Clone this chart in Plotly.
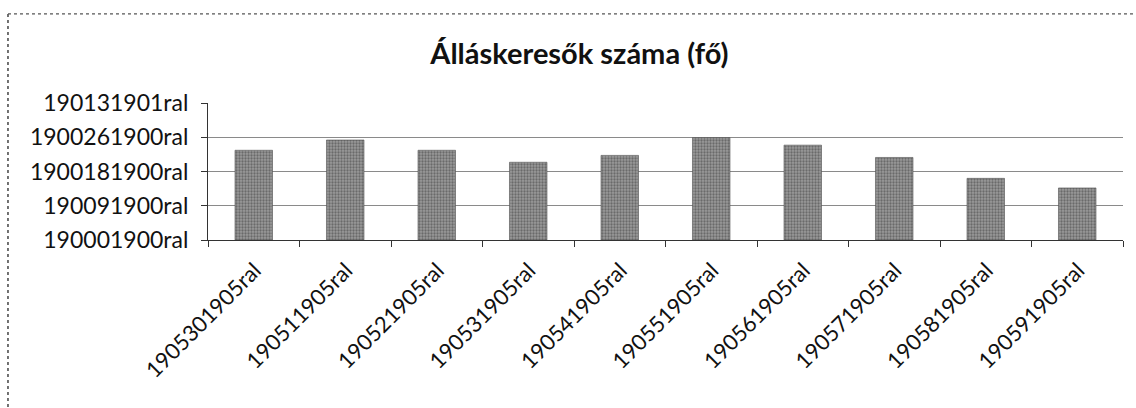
import plotly.graph_objects as go

# Job seekers per month (values on a 0–4 axis scale)
categories = ["1905301905ral", "190511905ral", "190521905ral", "190531905ral",
              "190541905ral", "190551905ral", "190561905ral", "190571905ral",
              "190581905ral", "190591905ral"]
values = [2.62, 2.92, 2.62, 2.27, 2.47, 2.99, 2.77, 2.41, 1.80, 1.52]

y_tickvals = [0, 1, 2, 3, 4]
y_ticktext = ["190001900ral", "190091900ral", "1900181900ral",
              "1900261900ral", "190131901ral"]

title_text = "Álláskeresők száma (fő)"

FONT = "Lato, 'Open Sans', sans-serif"

fig = go.Figure(go.Bar(
    x=categories,
    y=values,
    width=0.41,
    marker=dict(
        color="#8c8c8c",
        line=dict(color="#555555", width=0.6),
        pattern=dict(shape=".", fgcolor="#3a3a3a", bgcolor="#9a9a9a",
                     size=3, solidity=0.45),
    ),
    showlegend=False,
))

fig.update_layout(
    width=1136, height=408,
    margin=dict(l=208, r=13, t=103, b=168),
    paper_bgcolor="white",
    plot_bgcolor="white",
    font=dict(family=FONT, color="#111111"),
    title=dict(text=title_text, x=0.51, xanchor="center", y=0.868, yanchor="middle",
               font=dict(family=FONT, size=29, color="#111111", weight="bold")),
    bargap=0.59,
    shapes=[
        # outer frame (left and top edges)
        dict(type="line", xref="paper", yref="paper", x0=-0.2186, x1=-0.2186,
             y0=1.65, y1=-1.3, line=dict(color="#444444", width=1.5, dash="dot")),
        dict(type="line", xref="paper", yref="paper", x0=-0.2186, x1=1.02,
             y0=1.65, y1=1.65, line=dict(color="#555555", width=1.2, dash="dot")),
    ],
)

fig.update_xaxes(
    type="category",
    tickangle=-45,
    tickfont=dict(family=FONT, size=22, color="#111111"),
    ticklabelstandoff=8,
    ticklabelshift=1,
    showline=True, linecolor="#333333", linewidth=1,
    ticks="outside", ticklen=6, tickcolor="#333333",
    tickson="boundaries",
    showgrid=False,
)

fig.update_yaxes(
    range=[0, 4],
    tickvals=y_tickvals,
    ticktext=y_ticktext,
    tickfont=dict(family=FONT, size=23, color="#111111"),
    ticklabelstandoff=8,
    showline=True, linecolor="#333333", linewidth=1,
    ticks="outside", ticklen=6, tickcolor="#333333",
    showgrid=True, gridcolor="#8a8a8a", gridwidth=1,
    zeroline=False,
)

fig.write_html("out.html")
